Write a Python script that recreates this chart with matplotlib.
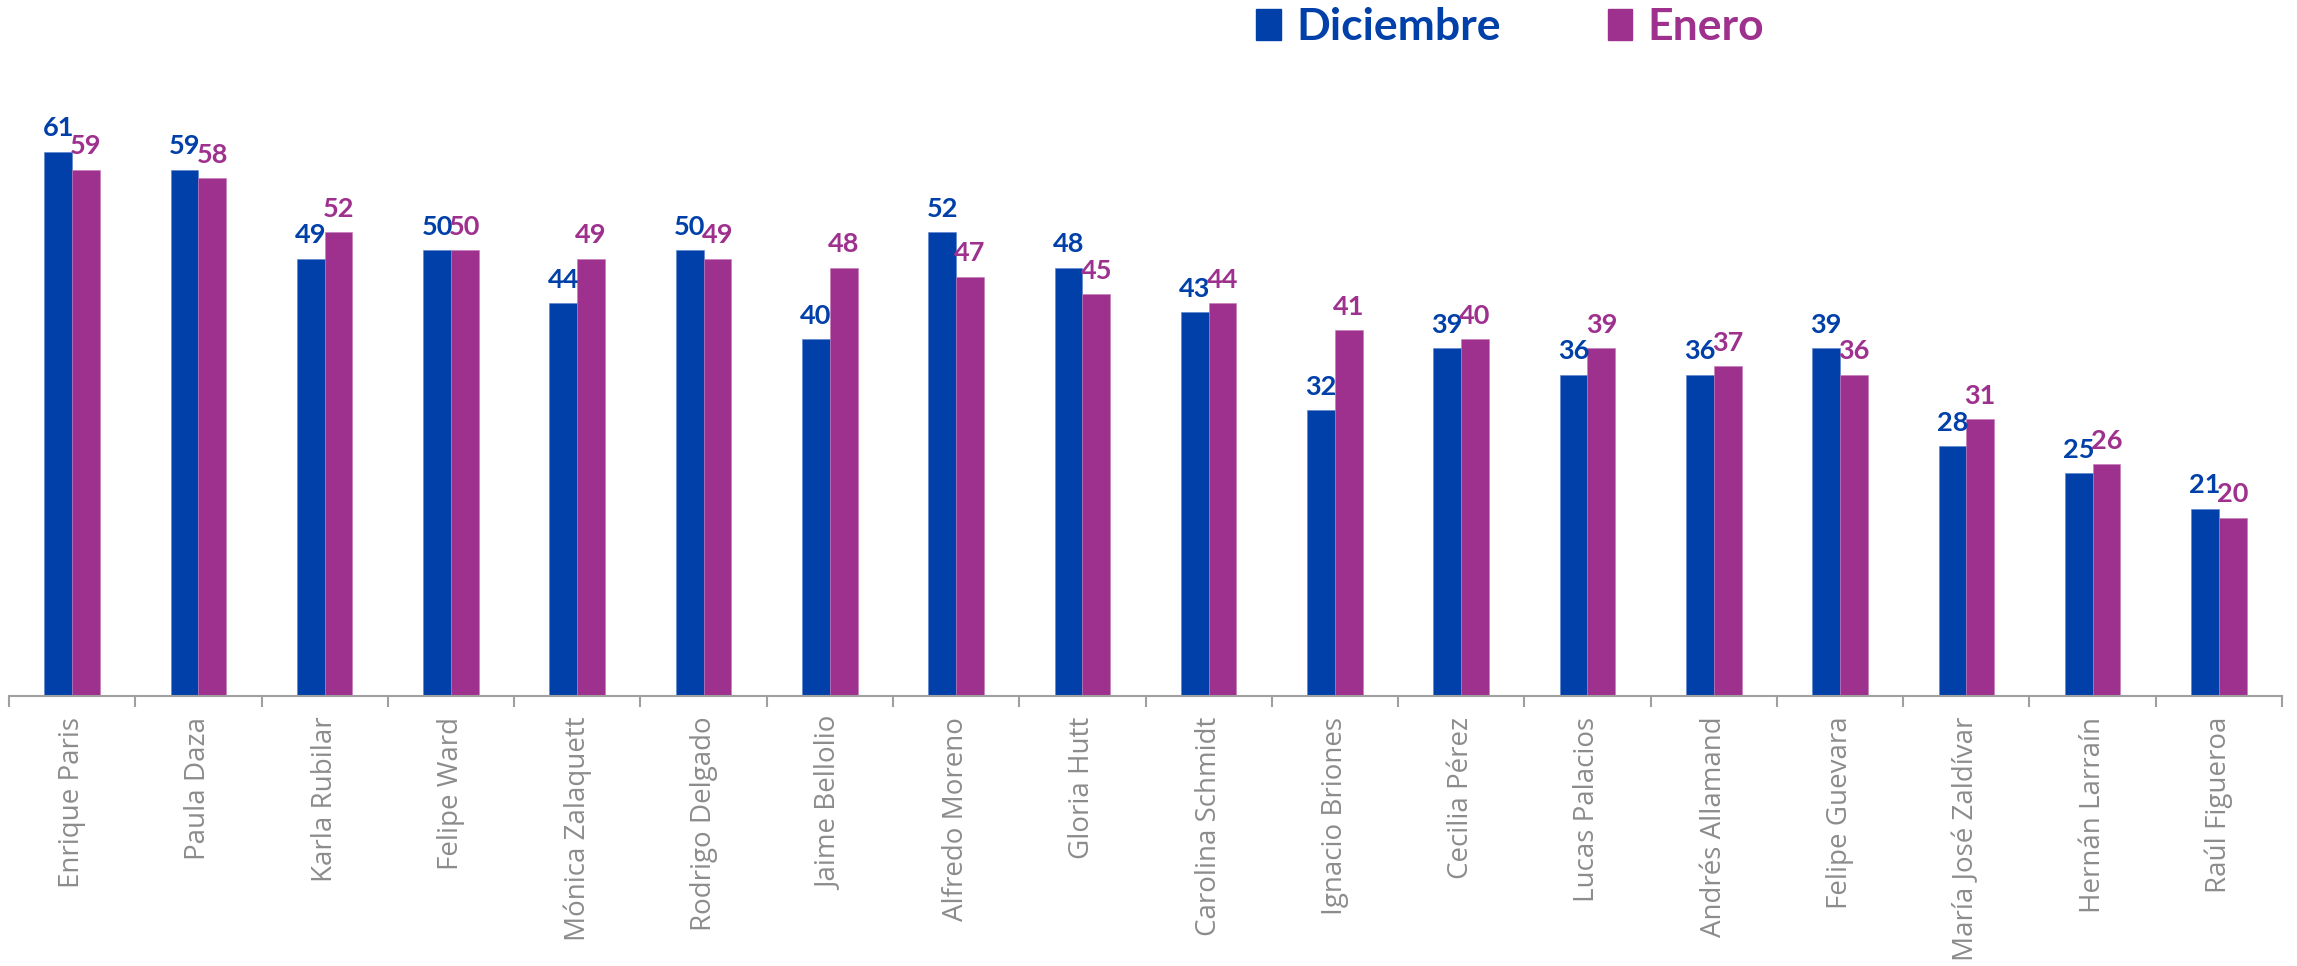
import numpy as np
import matplotlib
matplotlib.use("Agg")
import matplotlib.pyplot as plt
from matplotlib.patches import Patch

names = ["Enrique Paris", "Paula Daza", "Karla Rubilar", "Felipe Ward",
         "Mónica Zalaquett", "Rodrigo Delgado", "Jaime Bellolio", "Alfredo Moreno",
         "Gloria Hutt", "Carolina Schmidt", "Ignacio Briones", "Cecilia Pérez",
         "Lucas Palacios", "Andrés Allamand", "Felipe Guevara", "María José Zaldívar",
         "Hernán Larraín", "Raúl Figueroa"]
diciembre = [61, 59, 49, 50, 44, 50, 40, 52, 48, 43, 32, 39, 36, 36, 39, 28, 25, 21]
enero = [59, 58, 52, 50, 49, 49, 48, 47, 45, 44, 41, 40, 39, 37, 36, 31, 26, 20]
series = ["Diciembre", "Enero"]

BLUE = "#0040A8"
PURPLE = "#9E308E"
GREY = "#8C8C8C"

fig = plt.figure(figsize=(22.97, 9.66), dpi=100)
ax = fig.add_axes([9 / 2297, 1 - 696 / 966, (2282 - 9) / 2297, 696 / 966])

x = np.arange(len(names))
w = 0.22
b1 = ax.bar(x - w / 2, diciembre, w, color=BLUE, edgecolor="#5a7fd0", linewidth=0.4)
b2 = ax.bar(x + w / 2, enero, w, color=PURPLE, edgecolor="#c27ab8", linewidth=0.4)

# etiquetas de valor sobre cada barra
for bars, vals, col in [(b1, diciembre, BLUE), (b2, enero, PURPLE)]:
    for r, v in zip(bars, vals):
        ax.annotate(str(v), (r.get_x() + r.get_width() / 2, r.get_height()),
                    xytext=(0, 11), textcoords="offset points", ha="center",
                    va="baseline", fontsize=19.5, fontweight="bold", color=col,
                    family="Lato")

ax.set_xlim(-0.5, len(names) - 0.5)
ax.set_ylim(0, 78)
ax.set_yticks([])
for s in ["top", "left", "right"]:
    ax.spines[s].set_visible(False)
ax.spines["bottom"].set_color("#A0A0A0")
ax.spines["bottom"].set_linewidth(1.5)

ax.set_xticks(x)
ax.set_xticklabels(names, rotation=90, fontsize=20, color=GREY, family="Open Sans")
ax.tick_params(axis="x", which="major", length=0, pad=15)
ax.set_xticks(np.arange(len(names) + 1) - 0.5, minor=True)
ax.tick_params(axis="x", which="minor", length=8, width=1.5, color="#A0A0A0")

handles = [Patch(color=BLUE), Patch(color=PURPLE)]
leg = fig.legend(handles, series, loc="upper left", bbox_to_anchor=(1252 / 2297, 0.997),
                 ncol=2, frameon=False, handlelength=0.55, handleheight=0.7,
                 handletextpad=0.35, columnspacing=2.4, borderaxespad=0, borderpad=0.1,
                 prop={"family": "Lato", "weight": "bold", "size": 32})
for t, c in zip(leg.get_texts(), [BLUE, PURPLE]):
    t.set_color(c)

fig.savefig("out.png", dpi=100)
